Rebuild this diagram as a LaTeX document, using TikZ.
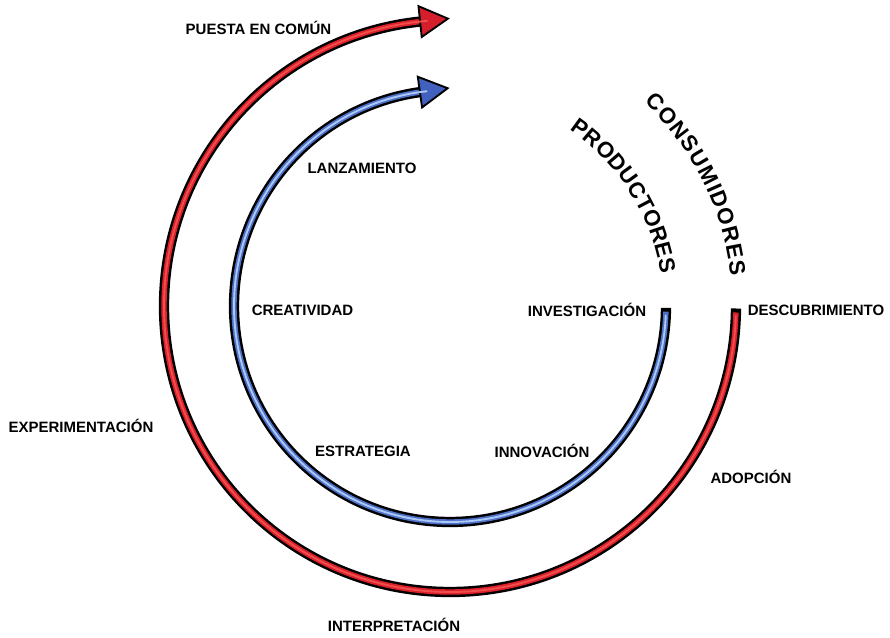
\documentclass[tikz,border=0pt]{standalone}
\usepackage{fontspec}
\setmainfont{Liberation Sans}
\usetikzlibrary{decorations.text}
\definecolor{redline}{RGB}{222,32,42}
\definecolor{redlight}{RGB}{238,78,78}
\definecolor{redhead}{RGB}{212,30,44}
\definecolor{blueline}{RGB}{78,112,200}
\definecolor{bluelight}{RGB}{172,200,244}
\definecolor{bluehead}{RGB}{66,96,190}
\tikzset{
  lbl/.style={font=\bfseries\fontsize{12.8}{15}\selectfont, inner sep=0pt},
  outline/.style={draw=black, line width=8.8pt},
  core/.style={line width=4.6pt},
  shine/.style={line width=1.6pt, line cap=round},
  head/.style={draw=black, line width=1.6pt, line join=miter},
}

\begin{document}
\begin{tikzpicture}[x=0.03cm, y=0.03cm]
\useasboundingbox (-450,-331) rectangle (440,306);

% where the arcs start and where the heads sit
\coordinate (rstart) at (-0.5:286);
\coordinate (rend) at (96:286);
\coordinate (bstart) at (-0.5:216);
\coordinate (bend) at (98:216);

% outer arc (consumidores)
\draw[outline] (rstart) arc[start angle=-0.5, end angle=-264, radius=286];
\draw[core, redline] (-1.3:286) arc[start angle=-1.3, end angle=-264, radius=286];
\draw[head, fill=redhead, shift={(rend)}, rotate=6] (0,15.5) -- (28,0) -- (0,-15.5) -- cycle;
\draw[shine, redlight] (-2:286) arc[start angle=-2, end angle=-265.4, radius=286];

% inner arc (productores)
\draw[outline] (bstart) arc[start angle=-0.5, end angle=-262, radius=216];
\draw[core, blueline] (-1.5:216) arc[start angle=-1.5, end angle=-262, radius=216];
\draw[head, fill=bluehead, shift={(bend)}, rotate=8] (0,15.5) -- (28,0) -- (0,-15.5) -- cycle;
\draw[shine, bluelight] (-2.5:216) arc[start angle=-2.5, end angle=-263.8, radius=216];

% curved titles
\path[decorate, decoration={text along path,
    text={|\bfseries\fontsize{19}{21}\selectfont|PRODUCTORES},
    text align={fit to path}}]
  (55.9:213) arc[start angle=55.9, end angle=8.6, radius=213];
\path[decorate, decoration={text along path,
    text={|\bfseries\fontsize{19}{21}\selectfont|CONSUMIDORES},
    text align={fit to path}}]
  (46.4:282) arc[start angle=46.4, end angle=6.1, radius=282];

% labels
\node[lbl] (puesta) at (-191.5,278) {PUESTA EN COMÚN};
\node[lbl] (lanza) at (-88,138) {LANZAMIENTO};
\node[lbl] (crea) at (-147.5,-4) {CREATIVIDAD};
\node[lbl] (inves) at (137,-4) {INVESTIGACIÓN};
\node[lbl] (descu) at (366,-4) {DESCUBRIMIENTO};
\node[lbl] (exper) at (-369,-120) {EXPERIMENTACIÓN};
\node[lbl] (estra) at (-87,-145) {ESTRATEGIA};
\node[lbl] (innov) at (92,-145) {INNOVACIÓN};
\node[lbl] (adop) at (301,-171) {ADOPCIÓN};
\node[lbl] (inter) at (-56,-319) {INTERPRETACIÓN};
\end{tikzpicture}
\end{document}
